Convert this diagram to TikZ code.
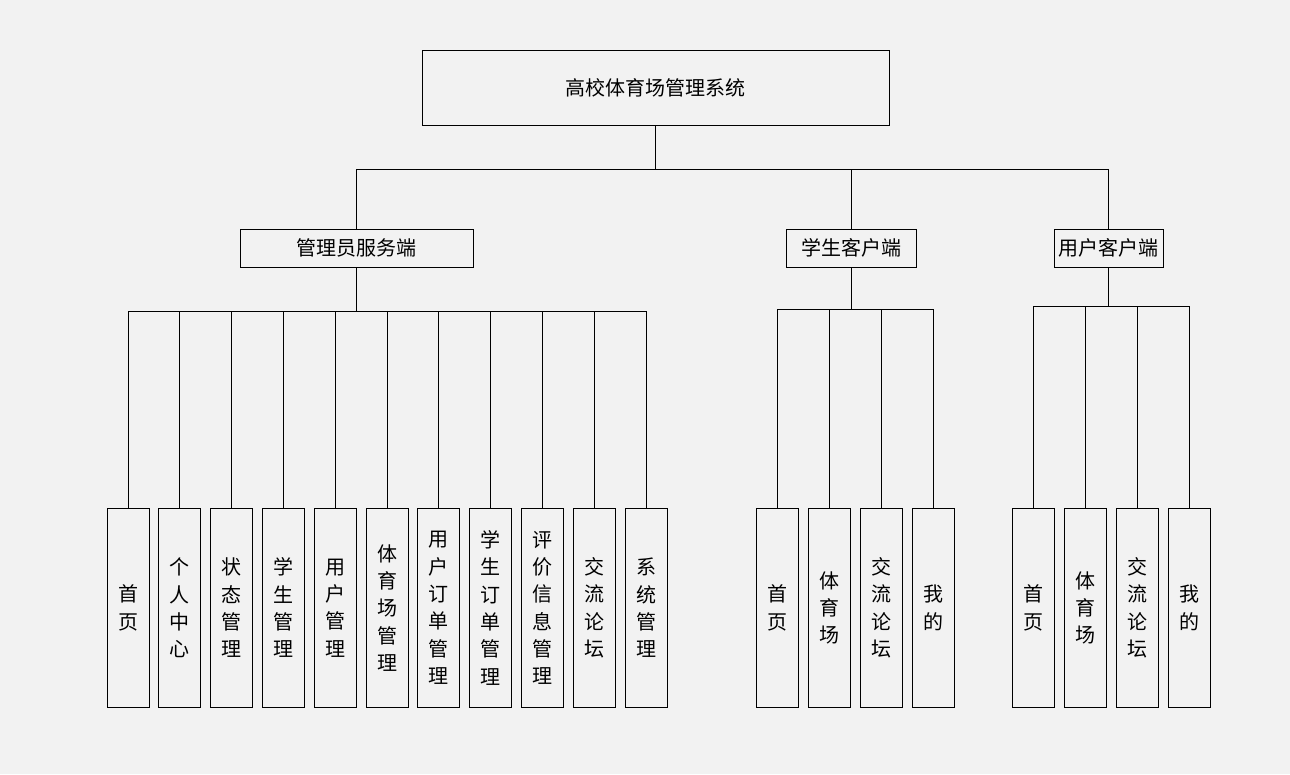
\documentclass[tikz,border=0pt]{standalone}
\usepackage{fontspec}
\setmainfont{Noto Sans CJK SC}
\usetikzlibrary{positioning}
\definecolor{pagegray}{HTML}{F2F2F2}
\tikzset{
  box/.style={draw, line width=0.8pt, inner sep=0pt, font=\fontsize{20}{24}\selectfont},
  leaf/.style={box, minimum width=42pt, minimum height=199pt, anchor=north,
    align=center, font=\fontsize{20}{27.3}\selectfont},
  link/.style={line width=0.8pt}
}
\begin{document}
\begin{tikzpicture}[x=1pt,y=-1pt]
  \fill[pagegray] (0,0) rectangle (1290,774);
  \useasboundingbox (0,0) rectangle (1290,774);
  % Wurzel
  \node[box, minimum width=467pt, minimum height=75pt] (root) at (655.5,87.5) {高校体育场管理系统};
  % Ebene 2
  \node[box, minimum width=233pt, minimum height=38pt] (admin) at (356.5,248) {管理员服务端};
  \node[box, minimum width=130pt, minimum height=38pt] (stud) at (851,248) {学生客户端};
  \node[box, minimum width=109pt, minimum height=38pt] (user) at (1108.5,248) {用户客户端};
  \foreach \n in {admin,stud,user}{
    \draw[link] (root.south) -- ++(0,44) -| (\n.north);}
  % Verwaltung
  \foreach \x/\t [count=\i] in {
    128/首\\页, 179.8/个\\人\\中\\心, 231.6/状\\态\\管\\理, 283.4/学\\生\\管\\理,
    335.2/用\\户\\管\\理, 387/体\\育\\场\\管\\理, 438.8/用\\户\\订\\单\\管\\理,
    490.6/学\\生\\订\\单\\管\\理, 542.4/评\\价\\信\\息\\管\\理,
    594.2/交\\流\\论\\坛, 646/系\\统\\管\\理}{
    \node[leaf] (a\i) at (\x,508) {\t};
    \draw[link] (admin.south) -- ++(0,44) -| (a\i.north);}
  % Studenten
  \foreach \x/\t [count=\i] in {
    777.5/首\\页, 829.5/体\\育\\场, 881.5/交\\流\\论\\坛, 933.5/我\\的}{
    \node[leaf] (s\i) at (\x,508) {\t};
    \draw[link] (stud.south) -- ++(0,42) -| (s\i.north);}
  % Nutzer
  \foreach \x/\t [count=\i] in {
    1033.5/首\\页, 1085.5/体\\育\\场, 1137.5/交\\流\\论\\坛, 1189.5/我\\的}{
    \node[leaf] (u\i) at (\x,508) {\t};
    \draw[link] (user.south) -- ++(0,39) -| (u\i.north);}
\end{tikzpicture}
\end{document}
